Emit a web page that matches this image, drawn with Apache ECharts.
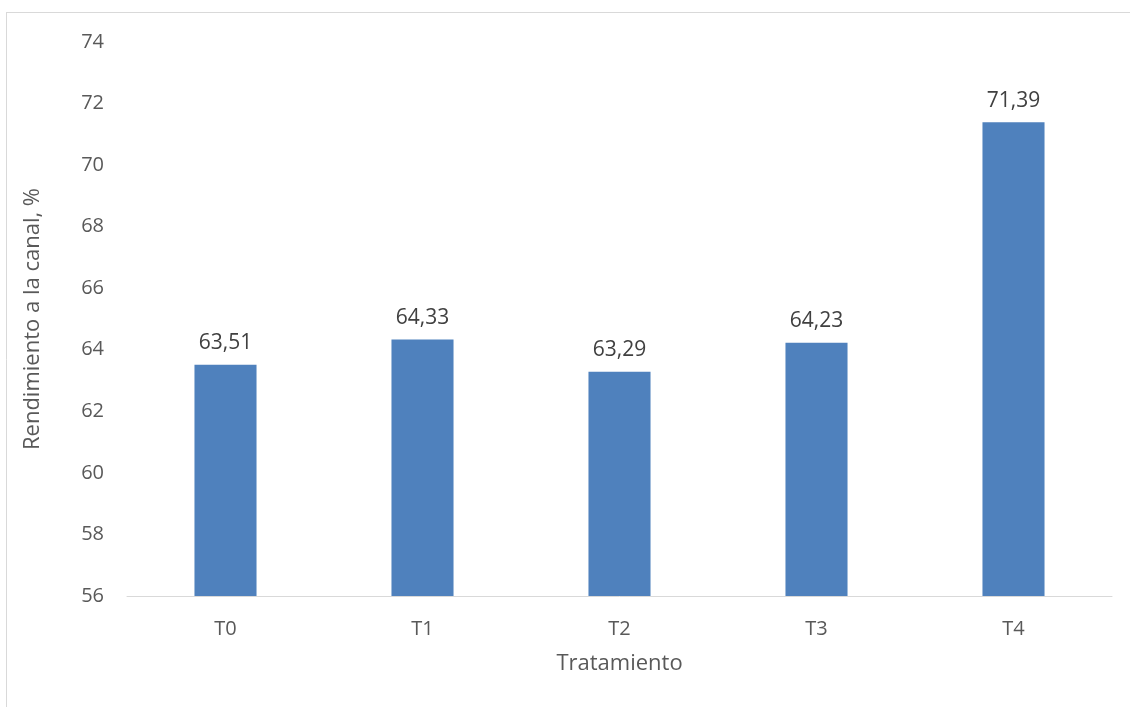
<!DOCTYPE html>
<html><head><meta charset="utf-8">
<script src="https://cdn.jsdelivr.net/npm/echarts@6/dist/echarts.min.js"></script>
<style>html,body{margin:0;padding:0;background:#fff}#c{width:1130px;height:707px}</style>
</head><body><div id="c"></div>
<script>
const categories = ['T0','T1','T2','T3','T4'];
const values = [63.51, 64.33, 63.29, 64.23, 71.39];
const yMin = 56, yMax = 74, yStep = 2;
const xTitle = 'Tratamiento';
const yTitle = 'Rendimiento a la canal, %';

const chart = echarts.init(document.getElementById('c'));
const font = 'Open Sans, Liberation Sans, sans-serif';
chart.setOption({
  animation: false,
  textStyle: {fontFamily: font},
  graphic: [
    {type:'line', shape:{x1:6.5,y1:12.5,x2:6.5,y2:707}, style:{stroke:'#d9d9d9',lineWidth:1}},
    {type:'line', shape:{x1:6,y1:12.5,x2:1130,y2:12.5}, style:{stroke:'#d9d9d9',lineWidth:1}}
  ],
  grid: {left:127, right:18, top:42, bottom:111},
  xAxis: {
    type:'category', data: categories,
    axisLine:{lineStyle:{color:'#d9d9d9',width:1}},
    axisTick:{show:false},
    axisLabel:{color:'#595959', fontSize:20, margin:23, fontFamily:font},
    name: xTitle, nameLocation:'middle', nameGap:57,
    nameTextStyle:{color:'#595959', fontSize:22, fontFamily:font}
  },
  yAxis: {
    type:'value', min:yMin, max:yMax, interval:yStep,
    splitLine:{show:false}, axisLine:{show:false}, axisTick:{show:false},
    axisLabel:{color:'#595959', fontSize:20, margin:23, fontFamily:font},
    name: yTitle, nameLocation:'middle', nameGap:83, nameRotate:90,
    nameTextStyle:{color:'#595959', fontSize:22, fontFamily:font}
  },
  series: [{
    type:'bar', data: values, barWidth:'31.5%',
    itemStyle:{color:'#4f81bd'},
    label:{show:true, position:'top', distance:11, color:'#404040', fontSize:21, fontFamily:font,
      formatter: p => p.value.toFixed(2).replace('.', ',')}
  }]
});
</script></body></html>
